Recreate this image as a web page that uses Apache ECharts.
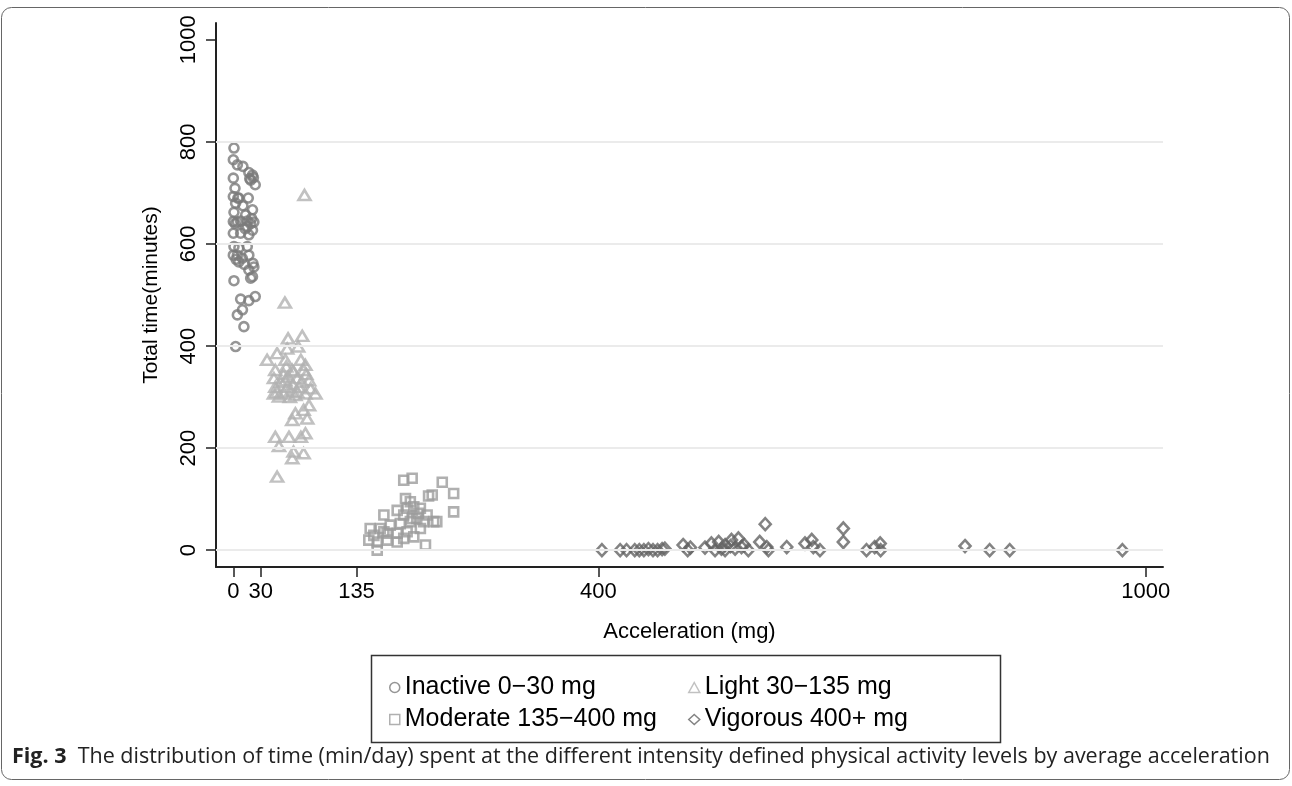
<!DOCTYPE html>
<html>
<head>
<meta charset="utf-8">
<title>Fig. 3</title>
<script src="https://cdn.jsdelivr.net/npm/echarts@6/dist/echarts.min.js"></script>
<style>
  html, body { margin: 0; padding: 0; background: #fff; }
  #chart { width: 1292px; height: 786px; }
</style>
</head>
<body>
<div id="chart"></div>
<script>
// values: [acceleration mg, total minutes]
const inactive = [
  [0.7, 788], [0, 765], [4.4, 755], [10.5, 752], [17, 740], [21, 735], [19, 725], [24, 716],
  [0, 729], [1.8, 709], [0, 693], [6.1, 690], [16.4, 690], [2.5, 680], [10.5, 675], [21, 667],
  [0.7, 662], [13.5, 657], [0, 644], [4.4, 643], [15.3, 645], [22.5, 643], [0, 621], [8, 621],
  [17, 618], [21, 627], [15.3, 634], [0.7, 595], [6.1, 592], [15.3, 595], [0, 578], [4.4, 578],
  [9.9, 572], [17, 578], [21.5, 562], [22.5, 555], [17, 549], [21, 536], [0.7, 528], [19, 533],
  [24, 497], [17, 489], [8, 492], [10, 471], [4.4, 461], [11.6, 438], [2.5, 399],
  [3, 570], [6, 565], [12, 560], [19, 640], [20, 650], [18, 728], [22, 730], [13, 630],
  [8, 645], [2, 640], [5, 690]
];
const light = [
  [56.5, 485], [60, 415], [75.5, 420], [59, 395], [71, 399], [37, 373], [48, 386], [57, 373],
  [74, 373], [79, 363], [46, 353], [64.6, 353], [77, 353], [44.5, 337], [57, 333], [70, 337],
  [83, 333], [46, 320], [59, 320], [72, 320], [84.6, 317], [44.5, 307], [55.4, 307], [68, 304],
  [79, 307], [90, 307], [50, 301], [83, 284], [77, 275], [68, 268], [81, 258], [64.6, 255],
  [79, 229], [46, 222], [61, 222], [74, 222], [50, 204], [66, 193], [77, 190], [64.6, 180],
  [48, 144], [78, 696],
  [52, 330], [60, 340], [65, 325], [55, 345], [63, 312], [70, 310], [48, 310], [75, 330],
  [62, 300], [58, 360], [66, 350], [80, 345]
];
const moderate = [
  [186.8, 137], [196, 141], [229, 133], [241.5, 111], [218, 108], [214, 106], [188.7, 101],
  [241.5, 75], [165, 69], [179.6, 78], [194, 95], [197.8, 85], [205, 82], [186.8, 69],
  [212.4, 69], [223, 56], [150, 42.5], [161, 42.5], [172, 49], [183, 52], [194, 56], [201, 62],
  [205, 42.5], [148.5, 19.6], [157.7, 16], [168.6, 19.6], [179.6, 16], [186.8, 23], [197.8, 26],
  [157.7, 0], [210.6, 10], [168.6, 33], [179.6, 33], [190.5, 36], [154, 29], [165, 36],
  [203, 72], [196, 62], [190.5, 82], [208.7, 56], [219.6, 56]
];
const vigorous = [
  [404, 0], [424, 0], [431, 0], [440, 0], [445, 0], [450, 0], [455, 2], [460, 0], [465, 0],
  [470, 2], [473, 3], [493, 10], [501, 5], [498, 0], [524, 13], [532, 16], [539, 10], [546, 20],
  [553.6, 23], [528, 0], [539, 0], [557, 6], [564.5, 0], [583, 51], [577, 16], [584.7, 6],
  [586.5, 0], [606.6, 6], [626.6, 13], [634, 20], [635.7, 6], [643, 0], [668.6, 42.5],
  [668.6, 16], [694, 0], [703, 6], [709, 13], [709.5, 0], [802, 8], [829, 0], [851, 0],
  [974.5, 0], [517, 5], [535, 3], [545, 8], [550, 3], [560, 10]
];

const seriesNames = ['Inactive 0\u221230 mg', 'Light 30\u2212135 mg', 'Moderate 135\u2212400 mg', 'Vigorous 400+ mg'];
const xTicks = [0, 30, 135, 400, 1000];
const yTicks = [0, 200, 400, 600, 800, 1000];
const gridLines = [0, 200, 400, 600, 800];

const FONT = 'Liberation Sans, Arial, Helvetica, sans-serif';

function scatter(name, data, symbol, size, color) {
  return {
    name: name,
    type: 'scatter',
    data: data,
    symbol: symbol,
    symbolSize: size,
    itemStyle: { color: 'rgba(255,255,255,0)', borderColor: color, borderWidth: 2.6 },
    emphasis: { disabled: true }
  };
}

const chart = echarts.init(document.getElementById('chart'));

const series = [
  scatter(seriesNames[0], inactive, 'circle', 9, '#7a7a7a'),
  scatter(seriesNames[1], light, 'triangle', [12, 10], '#b2b2b2'),
  scatter(seriesNames[2], moderate, 'rect', 9, '#9c9c9c'),
  scatter(seriesNames[3], vigorous, 'diamond', [11, 12], '#646464')
];
// horizontal grid lines (no line at 1000 in the original)
series[0].markLine = {
  silent: true,
  symbol: 'none',
  label: { show: false },
  lineStyle: { color: '#ebebeb', width: 2, type: 'solid' },
  data: gridLines.map(v => ({ yAxis: v }))
};

const legendText = { fontSize: 25, color: '#000', fontFamily: FONT };
const plain = v => String(v);

chart.setOption({
  animation: false,
  backgroundColor: '#fff',
  grid: { left: 216, right: 129, top: 23, bottom: 219 },
  xAxis: {
    type: 'value',
    min: -19,
    max: 1019,
    name: 'Acceleration (mg)',
    nameLocation: 'middle',
    nameGap: 54,
    nameTextStyle: { fontSize: 22, color: '#000', fontFamily: FONT },
    axisLine: { onZero: false, lineStyle: { color: '#222', width: 2 } },
    axisTick: { length: 10, customValues: xTicks, lineStyle: { color: '#222', width: 1.5 } },
    axisLabel: { customValues: xTicks, formatter: plain, fontSize: 22, color: '#000', fontFamily: FONT, margin: 14 },
    splitLine: { show: false }
  },
  yAxis: {
    type: 'value',
    min: -33,
    max: 1033,
    name: 'Total time(minutes)',
    nameLocation: 'middle',
    nameGap: 54,
    nameTextStyle: { fontSize: 21, color: '#000', fontFamily: FONT },
    axisLine: { show: true, onZero: false, lineStyle: { color: '#222', width: 2 } },
    axisTick: { show: true, length: 10, customValues: yTicks, lineStyle: { color: '#222', width: 1.5 } },
    axisLabel: { customValues: yTicks, formatter: plain, rotate: 90, fontSize: 22, color: '#000', fontFamily: FONT, margin: 16 },
    splitLine: { show: false }
  },
  legend: [
    {
      data: [seriesNames[0], seriesNames[2]],
      orient: 'vertical',
      left: 384,
      top: 670,
      itemWidth: 10,
      itemHeight: 10,
      itemGap: 7,
      itemStyle: { borderWidth: 1.5 },
      textStyle: legendText,
      selectedMode: false
    },
    {
      data: [seriesNames[1], seriesNames[3]],
      orient: 'vertical',
      left: 683,
      top: 670,
      itemWidth: 11,
      itemHeight: 10,
      itemGap: 7,
      itemStyle: { borderWidth: 1.5 },
      textStyle: legendText,
      selectedMode: false
    }
  ],
  graphic: [
    {
      type: 'rect',
      shape: { x: 1.5, y: 7.5, width: 1288, height: 772, r: 10 },
      style: { fill: 'none', stroke: '#666', lineWidth: 1 },
      silent: true
    },
    {
      type: 'rect',
      shape: { x: 371.5, y: 655.5, width: 629, height: 87 },
      style: { fill: 'none', stroke: '#333', lineWidth: 1.5 },
      silent: true
    },
    {
      type: 'text',
      left: 12,
      top: 746,
      style: {
        text: '{b|Fig. 3}  The distribution of time (min/day) spent at the different intensity defined physical activity levels by average acceleration',
        fontSize: 21.5,
        fontFamily: 'Open Sans, sans-serif',
        fill: '#222',
        rich: { b: { fontWeight: 'bold', fontSize: 21.5, fontFamily: 'Open Sans, sans-serif', fill: '#222' } }
      }
    }
  ],
  series: series
});

window.onresize = function () {
  chart.resize();
};
</script>
</body>
</html>
